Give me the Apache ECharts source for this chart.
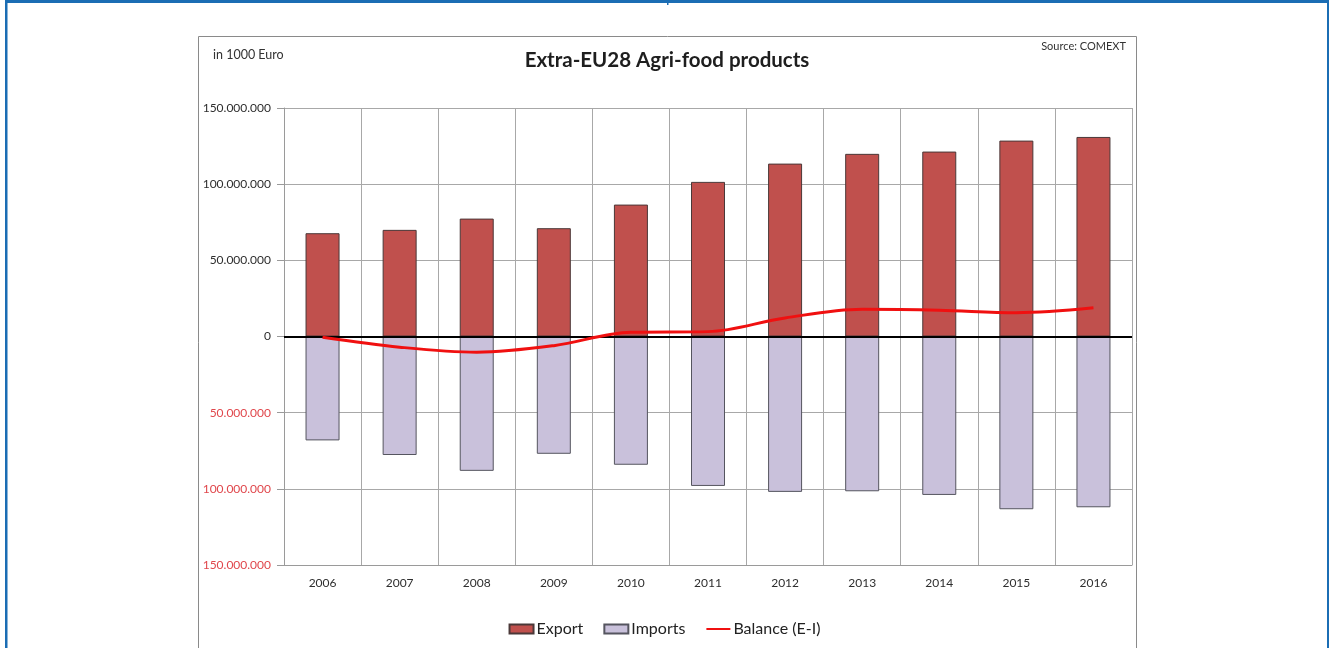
<!DOCTYPE html>
<html>
<head>
<meta charset="utf-8">
<script src="https://cdn.jsdelivr.net/npm/echarts@6/dist/echarts.min.js"></script>
<style>
  html, body { margin: 0; padding: 0; background: #ffffff; }
  #chart { width: 1329px; height: 648px; }
</style>
</head>
<body>
<div id="chart"></div>
<script>
// Extra-EU28 agri-food trade, values in 1000 Euro
const years = ['2006', '2007', '2008', '2009', '2010', '2011', '2012', '2013', '2014', '2015', '2016'];
const exportValues = [67800000, 70000000, 77400000, 71100000, 86600000, 101500000, 113500000, 119900000, 121400000, 128600000, 131000000];
const importValues = [68200000, 77800000, 88200000, 77000000, 84200000, 98100000, 102000000, 101600000, 104000000, 113400000, 112100000];
const balanceValues = [-500000, -7000000, -10300000, -6000000, 2800000, 3200000, 12200000, 17900000, 17300000, 15600000, 18800000];
const yTicks = { min: -150000000, max: 150000000, step: 50000000 };

const FONT = 'Lato, "Open Sans", sans-serif';

function dotted(v) {
  return Math.abs(Number(v)).toString().replace(/\B(?=(\d{3})+(?!\d))/g, '.');
}

const chart = echarts.init(document.getElementById('chart'), null, { renderer: 'canvas' });

chart.setOption({
  backgroundColor: '#ffffff',
  animation: false,
  textStyle: { fontFamily: FONT },
  graphic: [
    // page frame
    { type: 'rect', silent: true, shape: { x: 5, y: 0, width: 1324, height: 3 }, style: { fill: '#1b6db4' } },
    { type: 'rect', silent: true, shape: { x: 5, y: 0, width: 2.5, height: 648 }, style: { fill: '#1b6db4' } },
    { type: 'rect', silent: true, shape: { x: 1327, y: 0, width: 2, height: 648 }, style: { fill: '#1b6db4' } },
    { type: 'rect', silent: true, shape: { x: 667, y: 0, width: 1.5, height: 5 }, style: { fill: '#1b6db4' } },
    // chart area box
    { type: 'rect', silent: true, z: -1, shape: { x: 198.5, y: 36.5, width: 938, height: 640 },
      style: { fill: '#ffffff', stroke: '#8a8a8a', lineWidth: 1 } },
    { type: 'text', silent: true, left: 213, top: 48,
      style: { text: 'in 1000 Euro', font: '12.5px ' + FONT, fill: '#333333' } },
    { type: 'text', silent: true, right: 203, top: 41,
      style: { text: 'Source: COMEXT', font: '11px ' + FONT, fill: '#333333' } },
    { type: 'text', silent: true, x: 667, y: 60,
      style: { text: 'Extra-EU28 Agri-food products', font: 'bold 20.5px ' + FONT, fill: '#1e1e1e',
               textAlign: 'center', textVerticalAlign: 'middle' } }
  ],
  legend: {
    left: 'center',
    top: 616,
    itemWidth: 24,
    itemHeight: 9,
    itemGap: 20,
    textStyle: { fontFamily: FONT, fontSize: 16, color: '#222222', padding: [0, 0, 0, -2] },
    data: [
      { name: 'Export', icon: 'rect' },
      { name: 'Imports', icon: 'rect' },
      { name: 'Balance (E-I)', itemStyle: { opacity: 0 } }
    ]
  },
  grid: { left: 284, right: 197, top: 108, bottom: 83, containLabel: false },
  xAxis: {
    type: 'category',
    data: years,
    boundaryGap: true,
    axisLine: { onZero: false, lineStyle: { color: '#9a9a9a', width: 1 } },
    axisTick: { show: false },
    axisLabel: { margin: 12, fontSize: 12, color: '#2e2e2e', fontFamily: FONT },
    splitLine: { show: true, lineStyle: { color: '#a8a8a8', width: 1 } }
  },
  yAxis: {
    type: 'value',
    min: yTicks.min,
    max: yTicks.max,
    interval: yTicks.step,
    axisLine: { show: true, lineStyle: { color: '#9a9a9a', width: 1 } },
    axisTick: { show: true, length: 7, lineStyle: { color: '#9a9a9a' } },
    axisLabel: {
      margin: 13,
      fontSize: 12,
      fontFamily: FONT,
      formatter: dotted,
      color: function (v) { return Number(v) < 0 ? '#e0474c' : '#2e2e2e'; }
    },
    splitLine: { show: true, lineStyle: { color: '#a8a8a8', width: 1 } }
  },
  series: [
    {
      name: 'Export',
      type: 'bar',
      stack: 'trade',
      barWidth: 34,
      data: exportValues,
      itemStyle: { color: '#c0504d', borderColor: '#4a3838', borderWidth: 1 },
      markLine: {
        silent: true,
        symbol: 'none',
        label: { show: false },
        lineStyle: { color: '#000000', width: 2, type: 'solid' },
        data: [{ yAxis: 0 }],
        z: 3
      }
    },
    {
      name: 'Imports',
      type: 'bar',
      stack: 'trade',
      barWidth: 34,
      data: importValues.map(v => -v),
      itemStyle: { color: '#c9c1db', borderColor: '#55555f', borderWidth: 1 }
    },
    {
      name: 'Balance (E-I)',
      type: 'line',
      data: balanceValues,
      smooth: 0.35,
      symbol: 'none',
      z: 5,
      lineStyle: { color: '#f01010', width: 3 },
      itemStyle: { color: '#f01010' }
    }
  ]
});
</script>
</body>
</html>
